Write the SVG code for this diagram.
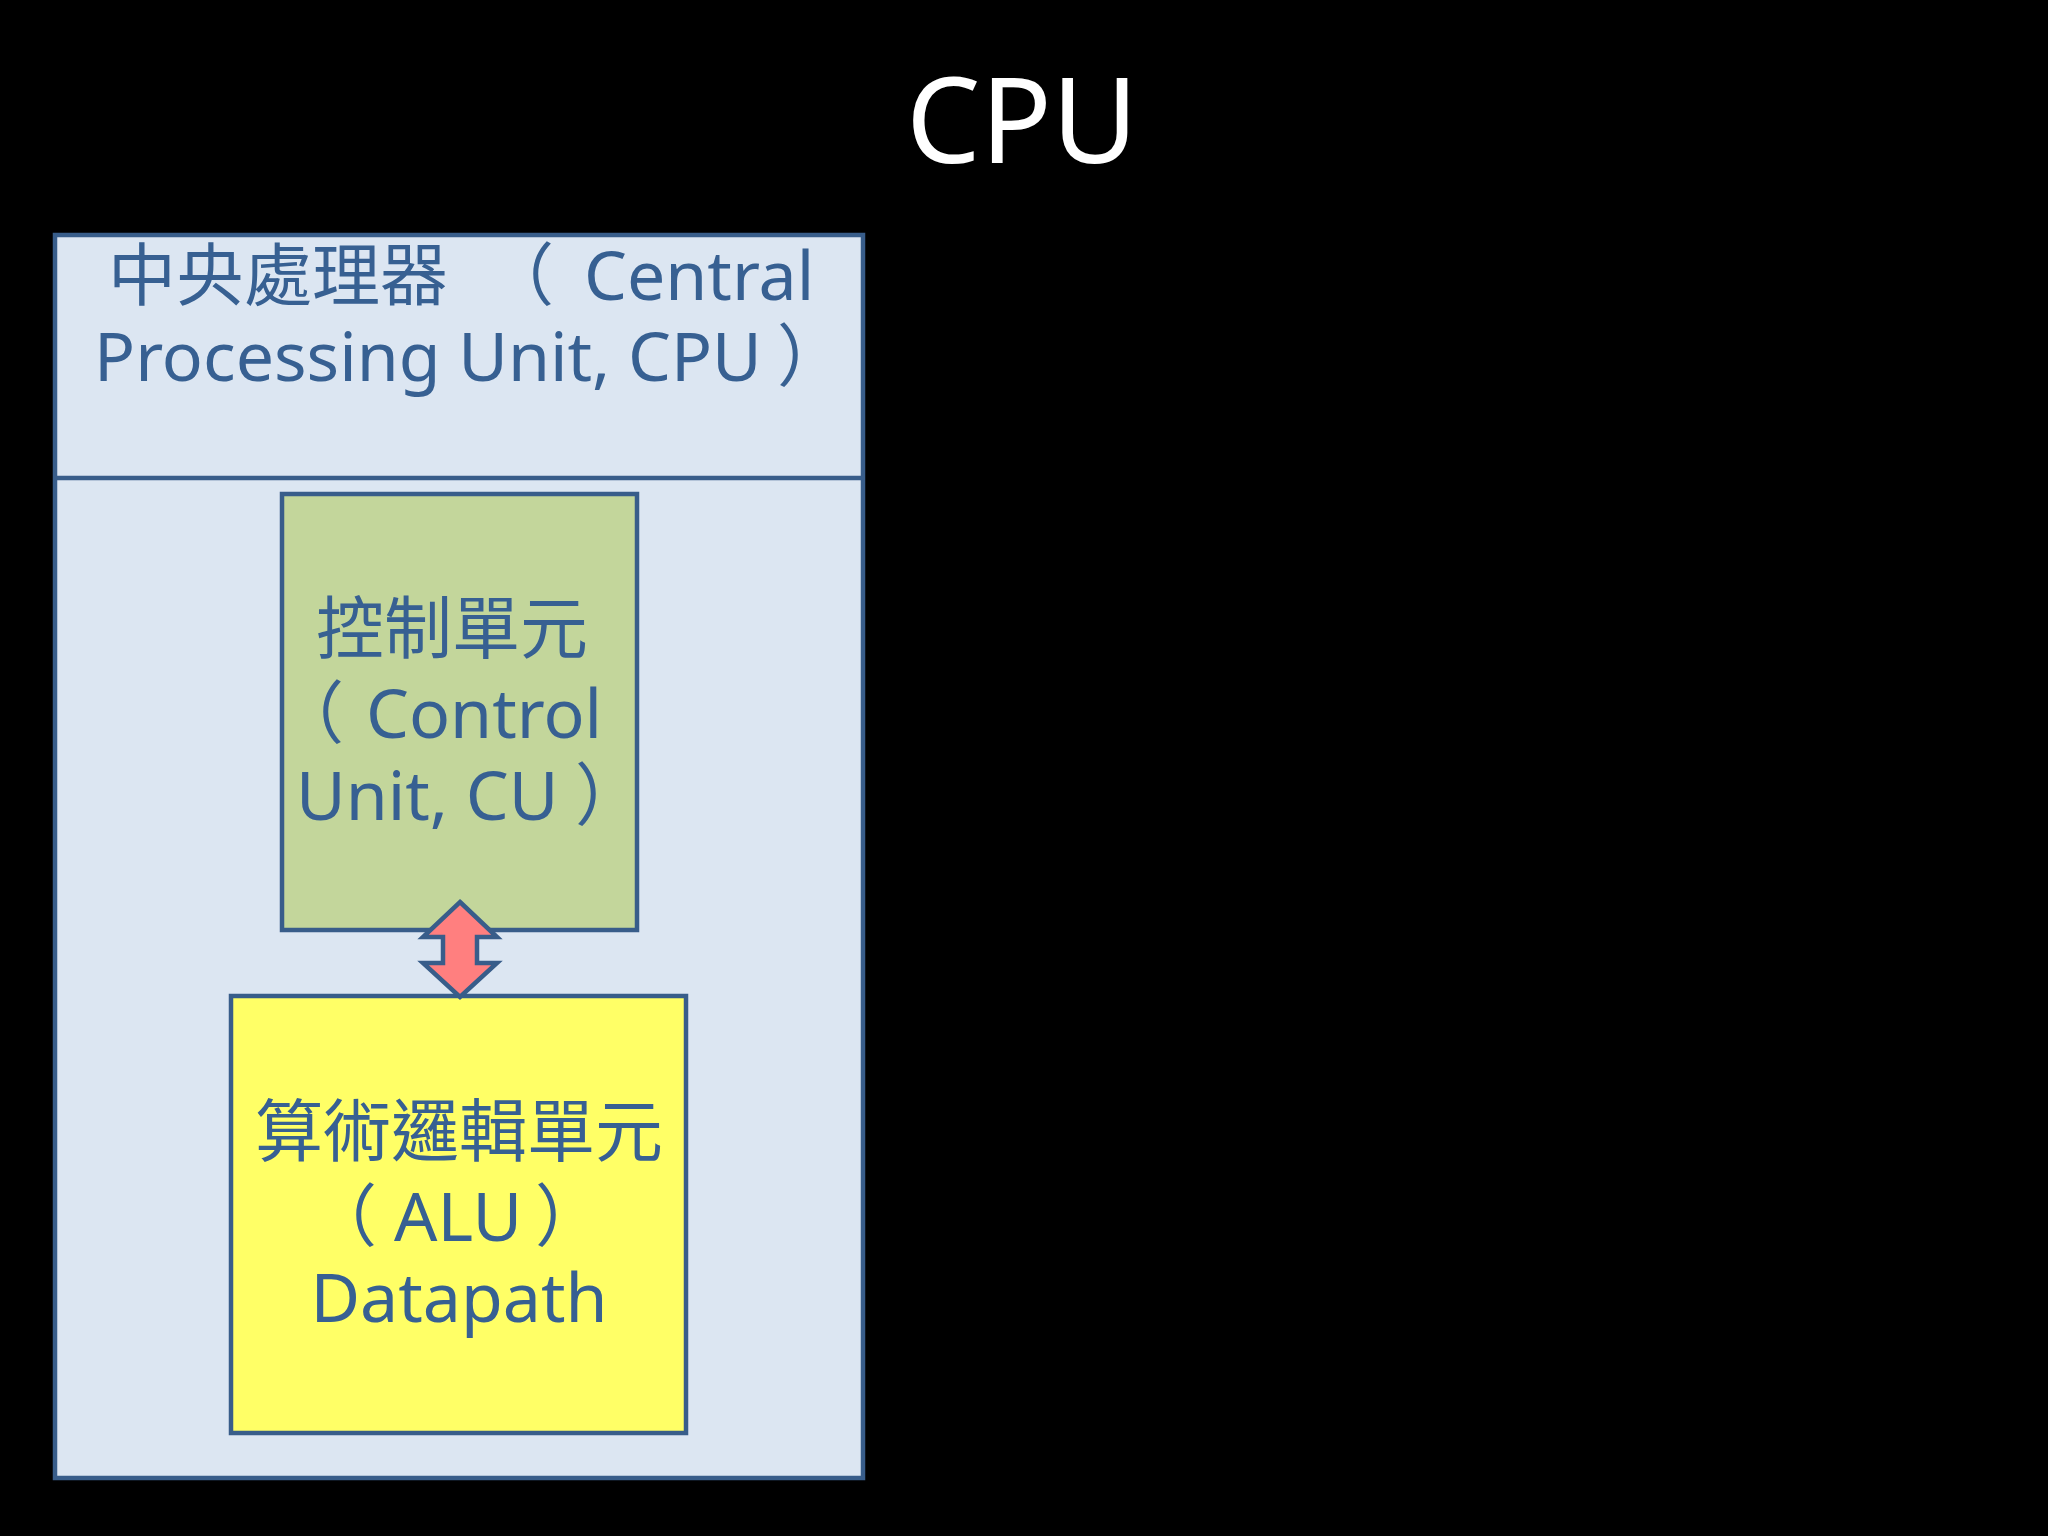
<svg xmlns="http://www.w3.org/2000/svg" width="2048" height="1536" viewBox="0 0 2048 1536">
<style>
.box{stroke:#385D8A;stroke-width:4.5}
.t{font-family:"Noto Sans","Noto Sans CJK TC",sans-serif;fill:#376092;font-size:68px}
.c{text-anchor:middle}
</style>
<rect x="0" y="0" width="2048" height="1536" fill="#000"/>
<text x="1022" y="163" text-anchor="middle" font-family="Noto Sans, sans-serif" font-size="118" fill="#fff">CPU</text>
<g id="cpu">
<rect class="box" x="55" y="235" width="808" height="1243" fill="#DCE6F2"/>
<line class="box" x1="55" y1="478" x2="863" y2="478"/>
<text class="t" y="300"><tspan x="108">中央處理器</tspan><tspan x="486">（</tspan><tspan x="584">Central</tspan></text>
<text class="t" y="381"><tspan x="94">Processing Unit, CPU</tspan><tspan x="777">）</tspan></text>
</g>
<g id="cu">
<rect class="box" x="282" y="494" width="355" height="436" fill="#C3D69B"/>
<text class="t c" x="452" y="653">控制單元</text>
<text class="t" y="738"><tspan x="276">（</tspan><tspan x="366">Control</tspan></text>
<text class="t" y="820"><tspan x="296">Unit, CU</tspan><tspan x="575">）</tspan></text>
</g>
<g id="alu">
<rect class="box" x="231" y="996" width="455" height="437" fill="#FFFF66"/>
<text class="t c" x="459" y="1156">算術邏輯單元</text>
<text class="t" y="1241"><tspan x="309">（</tspan><tspan x="394">ALU</tspan><tspan x="535">）</tspan></text>
<text class="t c" x="459" y="1322">Datapath</text>
</g>
<g id="connectors">
<path d="M460,902 L497,937 L477,937 L477,963 L497,963 L460,997 L423,963 L443,963 L443,937 L423,937 Z" fill="#FF7F7F" stroke="#385D8A" stroke-width="4.5" stroke-linejoin="miter"/>
</g>
</svg>
